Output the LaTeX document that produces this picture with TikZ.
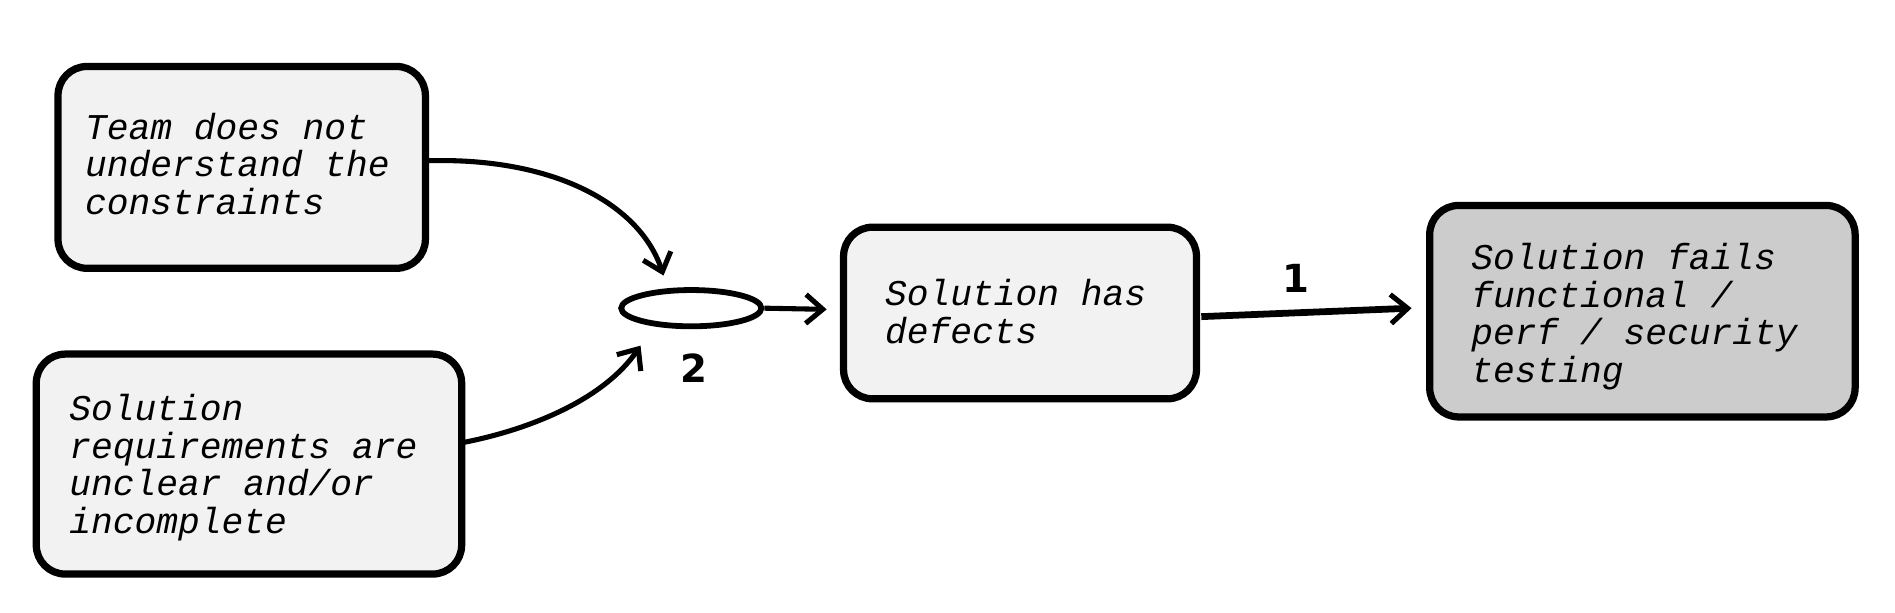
\documentclass[tikz,border=0pt]{standalone}
\usepackage{fontspec}
\setmonofont{Liberation Mono}
\newfontfamily\lblfont{DejaVu Sans}
\usetikzlibrary{arrows.meta,shapes.geometric}
\begin{document}
\begin{tikzpicture}[x=0.5pt,y=-0.5pt,
  box/.style={draw=black,line width=3pt,rounded corners=12pt,fill=gray!10},
  txt/.style={anchor=north west,align=left,font=\ttfamily\itshape\fontsize{15}{15.5}\selectfont,inner sep=0pt},
  lbl/.style={font=\lblfont\bfseries\fontsize{16}{16}\selectfont},
  arr/.style={line width=2.1pt,-{Straight Barb[length=7pt,width=12pt,line width=2.1pt]}}]
\useasboundingbox (0,0) rectangle (1568,507);
\draw[box] (48,55) rectangle (352,222);
\coordinate (A) at (354,133);
\node[txt] (ta) at (70,93) {Team does not\\understand the\\constraints};
\draw[box] (30,293) rectangle (382,475);
\coordinate (B) at (384,366);
\node[txt] (tb) at (57,326) {Solution\\requirements are\\unclear and/or\\incomplete};
\node[draw,line width=2.4pt,ellipse,minimum width=58pt,minimum height=15pt,inner sep=0pt] (E) at (572,255) {};
\draw[box] (698,188) rectangle (990,330);
\coordinate (C1) at (684,256);
\coordinate (C2) at (994,262);
\node[txt] (tc) at (732,231) {Solution has\\defects};
\draw[box,fill=gray!40] (1183,170) rectangle (1535,345);
\coordinate (D) at (1168,255);
\node[txt] (td) at (1217,201) {Solution fails\\functional /\\perf / security\\testing};
\node[lbl] (l1) at (1072,230) {1};
\node[lbl] (l2) at (574,305) {2};
\coordinate (Et) at (549,228);
\coordinate (Eb) at (530,286);
\draw[arr] (A) .. controls (460,130) and (530,170) .. (Et);
\draw[arr] (B) .. controls (440,355) and (500,330) .. (Eb);
\draw[arr] (E.east) -- (C1);
\draw[arr,line width=2.8pt] (C2) -- (D);
\end{tikzpicture}
\end{document}
